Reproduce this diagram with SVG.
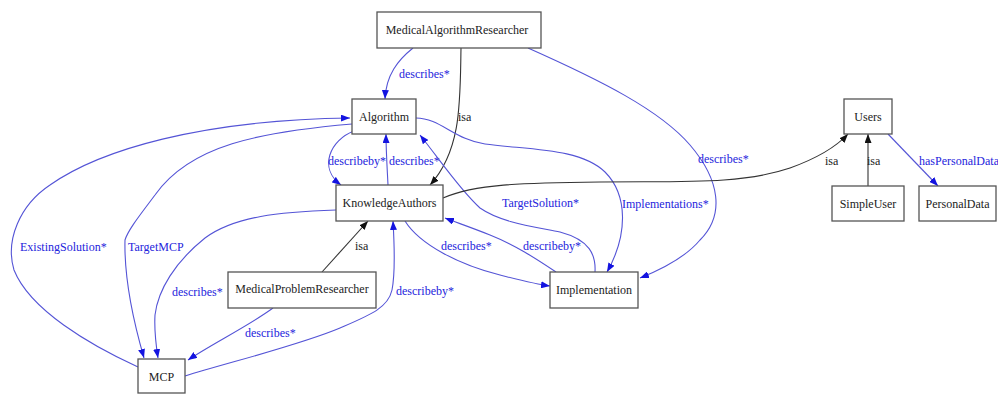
<svg xmlns="http://www.w3.org/2000/svg" width="998" height="394" viewBox="0 0 998 394">
<style>
.box{fill:#fff;stroke:#555;stroke-width:1.3}
.nl{font-family:"Liberation Serif","Times New Roman",serif;font-size:12px;fill:#222;text-anchor:middle}
.el{font-family:"Liberation Serif","Times New Roman",serif;font-size:12px;fill:#2424dc}
.ek{font-family:"Liberation Serif","Times New Roman",serif;font-size:12px;fill:#222}
.eb{fill:none;stroke:#5454d6;stroke-width:1.1;marker-end:url(#ab)}
.ed{fill:none;stroke:#333;stroke-width:1.1;marker-end:url(#ak)}
</style>
<defs>
<marker id="ab" viewBox="0 0 9 7" refX="9" refY="3.5" markerWidth="9" markerHeight="7" markerUnits="userSpaceOnUse" orient="auto"><path d="M0,0 L9,3.5 L0,7 z" fill="#1414e0"/></marker>
<marker id="ak" viewBox="0 0 9 7" refX="9" refY="3.5" markerWidth="9" markerHeight="7" markerUnits="userSpaceOnUse" orient="auto"><path d="M0,0 L9,3.5 L0,7 z" fill="#111"/></marker>
</defs>
<rect width="998" height="394" fill="#fff"/>
<g id="connectors">
<path class="eb" d="M413,48 C398,60 386,75 385,99"/>
<text class="el" x="399" y="78">describes*</text>
<path class="ed" d="M461,48 C460,100 462,150 430,185"/>
<text class="ek" x="458" y="121">isa</text>
<path class="eb" d="M528,48 C600,80 660,110 690,145 C720,180 725,215 700,240 C685,258 660,270 640,278"/>
<text class="el" x="698" y="163">describes*</text>
<path class="eb" d="M354,131 C330,140 318,168 341,185"/>
<text class="el" x="328" y="165">describeby*</text>
<path class="eb" d="M388,185 C387,165 386,150 386,134"/>
<text class="el" x="389" y="165">describes*</text>
<path class="eb" d="M416,118 C440,118 455,140 485,144 C530,150 580,148 605,172 C628,195 628,235 607,272"/>
<text class="el" x="622" y="208">Implementations*</text>
<path class="eb" d="M595,272 C596,255 590,240 560,232 C530,226 500,222 480,208 C460,190 440,160 420,135"/>
<text class="el" x="502" y="207">TargetSolution*</text>
<path class="eb" d="M405,221 C420,245 460,265 500,275 C520,280 535,284 550,286"/>
<text class="el" x="441" y="250">describes*</text>
<path class="eb" d="M556,272 C535,258 515,245 490,235 C470,227 455,222 445,218"/>
<text class="el" x="523" y="250">describeby*</text>
<path class="ed" d="M443,198 C475,184 520,183 600,182 C680,181 740,185 790,168 C815,159 835,148 848,134"/>
<text class="ek" x="825" y="165">isa</text>
<path class="ed" d="M868,186 L868,134"/>
<text class="ek" x="867" y="165">isa</text>
<path class="eb" d="M888,134 L938,186"/>
<text class="el" x="919" y="165">hasPersonalData</text>
<path class="ed" d="M322,272 L368,221"/>
<text class="ek" x="355" y="250">isa</text>
<path class="eb" d="M273,308 C250,325 210,345 188,360"/>
<text class="el" x="245" y="337">describes*</text>
<path class="eb" d="M185,376 C230,362 300,345 340,328 C370,315 388,308 392,290 C396,270 394,240 393,221"/>
<text class="el" x="396" y="295">describeby*</text>
<path class="eb" d="M336,210 C280,212 235,216 205,238 C175,262 158,290 155,315 C154,332 156,345 158,358"/>
<text class="el" x="172" y="296">describes*</text>
<path class="eb" d="M352,124 C260,132 190,145 155,195 C140,215 128,230 125,240 C124,280 133,320 144,358"/>
<text class="el" x="128" y="251">TargetMCP</text>
<path class="eb" d="M138,367 C90,345 30,310 14,270 C5,240 20,205 50,185 C100,150 200,120 350,118"/>
<text class="el" x="20" y="251">ExistingSolution*</text>
</g>
<g id="MedicalAlgorithmResearcher"><rect class="box" x="377" y="12" width="164" height="36"/><text class="nl" x="457" y="34">MedicalAlgorithmResearcher</text></g>
<g id="Algorithm"><rect class="box" x="352" y="99" width="64" height="35"/><text class="nl" x="384" y="121">Algorithm</text></g>
<g id="KnowledgeAuthors"><rect class="box" x="336" y="185" width="107" height="36"/><text class="nl" x="389.5" y="207">KnowledgeAuthors</text></g>
<g id="Users"><rect class="box" x="844" y="99" width="48" height="35"/><text class="nl" x="868" y="121">Users</text></g>
<g id="SimpleUser"><rect class="box" x="832" y="186" width="72" height="35"/><text class="nl" x="868" y="208">SimpleUser</text></g>
<g id="PersonalData"><rect class="box" x="919" y="186" width="77" height="35"/><text class="nl" x="957.5" y="208">PersonalData</text></g>
<g id="MedicalProblemResearcher"><rect class="box" x="228" y="272" width="148" height="36"/><text class="nl" x="302" y="293">MedicalProblemResearcher</text></g>
<g id="Implementation"><rect class="box" x="550" y="272" width="88" height="36"/><text class="nl" x="594" y="294">Implementation</text></g>
<g id="MCP"><rect class="box" x="138" y="359" width="47" height="34"/><text class="nl" x="161.5" y="381">MCP</text></g>
</svg>
